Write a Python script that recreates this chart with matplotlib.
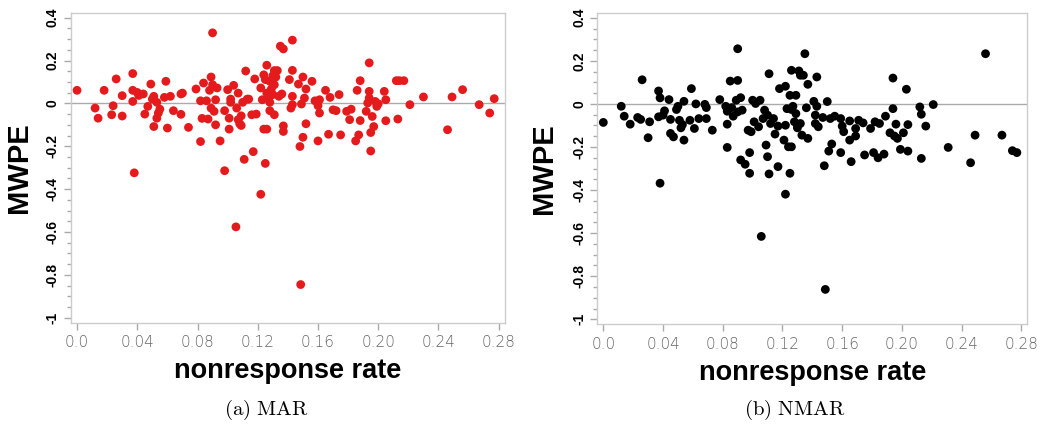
import matplotlib
matplotlib.use("Agg")
import matplotlib.pyplot as plt
import numpy as np

plt.rcParams['mathtext.fontset'] = 'cm'

# (a) MAR  -- nonresponse rate vs MWPE
mar_x = [0.000, 0.012, 0.014, 0.018, 0.023, 0.024, 0.026, 0.030, 0.030, 0.037,
         0.037, 0.037, 0.038, 0.040, 0.041, 0.044, 0.045, 0.047, 0.049, 0.050,
         0.051, 0.051, 0.053, 0.053, 0.054, 0.055, 0.059, 0.058, 0.060, 0.062,
         0.064, 0.069, 0.070, 0.069, 0.074, 0.079, 0.082, 0.082, 0.083, 0.084,
         0.086, 0.087, 0.088, 0.089, 0.090, 0.089, 0.090, 0.092, 0.091, 0.092,
         0.093, 0.095, 0.098, 0.098, 0.100, 0.101, 0.101, 0.102, 0.102, 0.104,
         0.106, 0.107, 0.107, 0.108, 0.109, 0.109, 0.110, 0.111, 0.112, 0.113,
         0.114, 0.116, 0.117, 0.118, 0.119, 0.122, 0.123, 0.122, 0.124, 0.124,
         0.125, 0.125, 0.126, 0.126, 0.126, 0.127, 0.128, 0.128, 0.128, 0.129,
         0.130, 0.130, 0.131, 0.131, 0.131, 0.132, 0.133, 0.134, 0.135, 0.137,
         0.136, 0.137, 0.137, 0.141, 0.143, 0.143, 0.142, 0.143, 0.143, 0.147,
         0.148, 0.149, 0.150, 0.150, 0.151, 0.152, 0.152, 0.156, 0.158, 0.160,
         0.160, 0.161, 0.161, 0.165, 0.167, 0.168, 0.170, 0.172, 0.174, 0.175,
         0.179, 0.181, 0.182, 0.185, 0.186, 0.187, 0.188, 0.188, 0.192, 0.193,
         0.194, 0.194, 0.194, 0.195, 0.195, 0.196, 0.197, 0.198, 0.199, 0.200,
         0.204, 0.205, 0.205, 0.212, 0.213, 0.214, 0.217, 0.221, 0.230, 0.246,
         0.249, 0.256, 0.267, 0.274, 0.277, 0.1055, 0.1485]
mar_y = [0.061, -0.022, -0.069, 0.061, -0.053, -0.011, 0.114, 0.036, -0.059, 0.139,
         0.061, 0.009, -0.324, 0.051, 0.037, 0.044, -0.050, -0.014, 0.090, 0.020,
         0.033, -0.108, 0.005, -0.069, -0.045, -0.027, 0.103, 0.028, -0.115, 0.033,
         -0.034, 0.044, 0.048, -0.051, -0.112, 0.067, -0.178, 0.012, -0.070, 0.095,
         0.012, -0.073, 0.061, 0.123, 0.329, -0.022, 0.087, 0.017, -0.037, -0.100,
         0.072, -0.175, -0.314, -0.034, 0.064, -0.120, -0.069, 0.020, 0.005, 0.084,
         -0.022, 0.048, -0.076, -0.095, -0.058, -0.103, 0.005, -0.261, 0.151, 0.020,
         0.020, -0.053, -0.225, 0.114, -0.050, 0.072, 0.017, -0.424, 0.133, -0.120,
         -0.280, 0.111, -0.120, 0.178, 0.048, 0.025, -0.034, 0.005, 0.103, 0.067,
         0.129, 0.041, -0.053, 0.087, 0.153, 0.123, 0.153, 0.033, 0.267, 0.254,
         0.044, -0.105, -0.131, 0.111, 0.154, 0.295, -0.022, 0.033, -0.006, 0.090,
         -0.201, -0.003, 0.123, -0.158, 0.025, 0.067, -0.095, 0.103, 0.012, -0.175,
         -0.011, 0.017, -0.045, 0.061, -0.144, 0.028, -0.030, -0.034, 0.041, -0.147,
         -0.037, -0.076, -0.027, -0.175, 0.061, -0.147, 0.106, -0.080, -0.037, 0.002,
         0.189, 0.056, 0.025, -0.136, -0.222, -0.061, -0.108, 0.009, -0.014, -0.002,
         0.056, 0.017, -0.081, 0.106, -0.073, 0.106, 0.106, -0.006, 0.030, -0.123,
         0.030, 0.064, -0.006, -0.045, 0.022, -0.576, -0.845]

# (b) NMAR
nmar_x = [0.000, 0.012, 0.014, 0.018, 0.023, 0.025, 0.026, 0.031, 0.030, 0.037,
          0.038, 0.037, 0.038, 0.040, 0.041, 0.044, 0.045, 0.045, 0.047, 0.049,
          0.050, 0.051, 0.052, 0.053, 0.054, 0.054, 0.058, 0.059, 0.061, 0.062,
          0.064, 0.068, 0.069, 0.069, 0.073, 0.078, 0.082, 0.083, 0.083, 0.083,
          0.085, 0.086, 0.087, 0.089, 0.090, 0.090, 0.090, 0.092, 0.092, 0.093,
          0.095, 0.097, 0.098, 0.098, 0.099, 0.100, 0.101, 0.102, 0.104, 0.105,
          0.107, 0.108, 0.109, 0.110, 0.110, 0.111, 0.111, 0.112, 0.114, 0.115,
          0.117, 0.117, 0.118, 0.121, 0.122, 0.122, 0.122, 0.123, 0.124, 0.125,
          0.125, 0.126, 0.126, 0.126, 0.127, 0.128, 0.129, 0.129, 0.130, 0.130,
          0.131, 0.132, 0.132, 0.133, 0.134, 0.135, 0.136, 0.137, 0.137, 0.141,
          0.142, 0.143, 0.143, 0.142, 0.144, 0.147, 0.148, 0.150, 0.151, 0.152,
          0.153, 0.155, 0.159, 0.159, 0.160, 0.161, 0.165, 0.165, 0.166, 0.169,
          0.169, 0.171, 0.174, 0.175, 0.179, 0.181, 0.182, 0.184, 0.185, 0.188,
          0.189, 0.192, 0.194, 0.194, 0.195, 0.196, 0.197, 0.199, 0.201, 0.203,
          0.204, 0.204, 0.212, 0.213, 0.213, 0.216, 0.221, 0.231, 0.246, 0.249,
          0.256, 0.267, 0.274, 0.277, 0.1058, 0.1487]
nmar_y = [-0.086, -0.011, -0.057, -0.094, -0.063, -0.072, 0.112, -0.083, -0.157, 0.060,
          0.028, -0.060, -0.368, -0.052, -0.032, 0.020, -0.072, -0.137, -0.153, -0.026,
          -0.011, -0.076, -0.111, -0.096, -0.168, 0.012, -0.076, 0.071, -0.114, 0.000,
          -0.068, -0.002, -0.017, -0.068, -0.122, 0.020, -0.011, -0.094, -0.202, -0.034,
          0.106, -0.017, -0.057, 0.017, 0.109, 0.256, -0.037, 0.029, -0.260, -0.029,
          -0.280, -0.122, -0.322, -0.226, -0.129, 0.017, -0.083, 0.002, -0.106, 0.017,
          -0.068, -0.029, -0.191, -0.052, -0.245, -0.325, 0.140, -0.091, -0.068, -0.140,
          -0.291, -0.103, 0.071, -0.168, -0.419, 0.082, -0.099, -0.022, -0.199, 0.040,
          -0.322, -0.026, 0.156, -0.199, -0.011, -0.083, -0.045, 0.040, -0.111, -0.099,
          0.153, -0.091, 0.133, -0.145, 0.133, 0.233, -0.018, -0.160, 0.091, 0.012,
          -0.052, 0.125, -0.011, -0.091, -0.106, -0.063, -0.287, 0.011, -0.219, -0.068,
          -0.186, -0.057, -0.068, -0.226, -0.103, -0.129, -0.079, -0.168, -0.268, -0.114,
          -0.149, -0.076, -0.088, -0.237, -0.114, -0.226, -0.083, -0.250, -0.091, -0.233,
          -0.057, -0.134, -0.022, 0.120, -0.149, -0.094, -0.160, -0.211, -0.134, 0.068,
          -0.219, -0.096, -0.014, -0.048, -0.253, -0.103, -0.003, -0.202, -0.273, -0.145,
          0.233, -0.145, -0.217, -0.226, -0.615, -0.861]

xticks = [0.0, 0.04, 0.08, 0.12, 0.16, 0.20, 0.24, 0.28]
xtick_labels = ["0.0", "0.04", "0.08", "0.12", "0.16", "0.20", "0.24", "0.28"]
yticks = [0.4, 0.2, 0, -0.2, -0.4, -0.6, -0.8, -1]
ytick_labels = ["0.4", "0.2", "0", "-0.2", "-0.4", "-0.6", "-0.8", "-1"]

fig = plt.figure(figsize=(10.58, 4.33), dpi=100)

panels = [
    ([0.0671, 0.2547, 0.410, 0.7145], mar_x, mar_y, '#e41a1c', r'$\mathrm{(a)\ MAR}$', 0.252, -0.088),
    ([0.5646, 0.2510, 0.4064, 0.7180], nmar_x, nmar_y, '#000000', r'$\mathrm{(b)\ NMAR}$', 0.751, -0.091),
]

for rect, xs, ys, col, cap, capx, ylab_x in panels:
    ax = fig.add_axes(rect)
    ax.axhline(0, color='#aaaaaa', lw=1, zorder=1)
    ax.scatter(xs, ys, s=40, color=col, edgecolors='none', zorder=2)
    ax.set_xlim(-0.004, 0.284)
    ax.set_ylim(-1.023, 0.42)

    for sp in ax.spines.values():
        sp.set_color('#cccccc')
        sp.set_linewidth(1)

    ax.set_xticks(xticks)
    ax.set_xticklabels(xtick_labels, fontsize=11, color='#666666', fontweight='light')
    ax.set_yticks(yticks)
    ax.set_yticklabels(ytick_labels, fontsize=10, fontweight='bold', rotation=90,
                       va='center', family='Liberation Sans')
    ax.set_yticks(np.arange(-1.0, 0.41, 0.05), minor=True)
    ax.tick_params(axis='both', which='major', length=5, color='#aaaaaa', width=1)
    ax.tick_params(axis='y', which='minor', length=3, color='#aaaaaa', width=1)
    ax.tick_params(axis='y', pad=3)
    ax.tick_params(axis='x', pad=4)

    ax.set_ylabel('MWPE', fontsize=21, fontweight='bold', family='Liberation Sans')
    ax.yaxis.set_label_coords(ylab_x, 0.5)
    ax.set_xlabel('nonresponse rate', fontsize=19.5, fontweight='bold', family='Liberation Sans')
    ax.xaxis.set_label_coords(0.5, -0.115)

    fig.text(capx, 0.053, cap, fontsize=15, ha='center', va='center')

fig.savefig('out.png', dpi=100)
